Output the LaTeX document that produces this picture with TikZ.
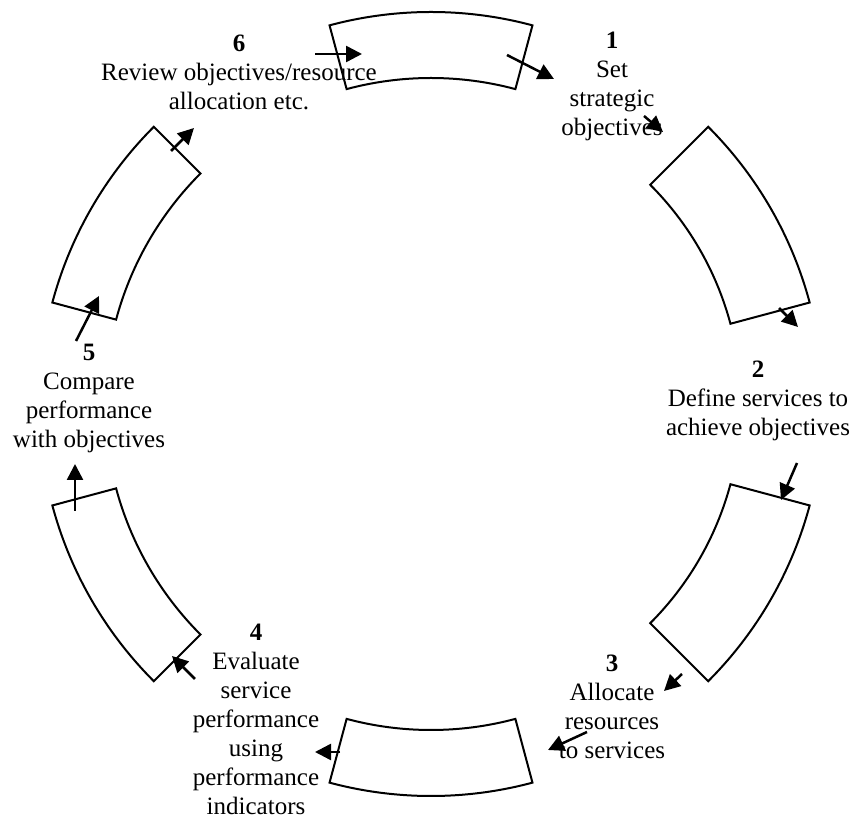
\documentclass[tikz,border=0pt]{standalone}
\usepackage{fontspec}
\setmainfont{Liberation Serif}
\usetikzlibrary{arrows.meta,calc}
% one curved segment of the cycle ring: start angle, end angle, inner radius
\newcommand\ringpiece[3]{%
  \draw[piece] ($(hub)+(#1:392pt)$) arc[start angle=#1,end angle=#2,radius=392pt]
    -- ($(hub)+(#2:#3pt)$) arc[start angle=#2,end angle=#1,radius=#3pt] -- cycle;}
\begin{document}
\begin{tikzpicture}[x=1pt,y=1pt,
  piece/.style={line width=2pt,line join=miter},
  flow/.style={line width=2.5pt,-{Triangle[length=16pt,width=16pt]}},
  stage/.style={align=center,anchor=north,inner sep=0pt,font=\fontsize{25}{29}\selectfont}]
\useasboundingbox (0,0) rectangle (854,819);
\coordinate (hub) at (431,415);

% ring segments
\ringpiece{75}{105}{326}
\ringpiece{15}{45}{310}
\ringpiece{-45}{-15}{310}
\ringpiece{255}{285}{326}
\ringpiece{195}{225}{326}
\ringpiece{135}{165}{326}

% stage labels
\node[stage] (set) at (612,787.5) {\textbf{1}\\Set\\strategic\\objectives};
\node[stage] (define) at (758,458.5) {\textbf{2}\\Define services to\\achieve objectives};
\node[stage] (allocate) at (612,164.5) {\textbf{3}\\Allocate\\resources\\to services};
\node[stage] (evaluate) at (256,195.5) {\textbf{4}\\Evaluate\\service\\performance\\using\\performance\\indicators};
\node[stage] (compare) at (89,475.5) {\textbf{5}\\Compare\\performance\\with objectives};
\node[stage] (review) at (239,784.5) {\textbf{6}\\Review objectives/resource\\allocation etc.};

% arrow end points
\coordinate (topOutA) at (507,764);  \coordinate (topOutB) at (554,740);
\coordinate (topInA)  at (315,765);  \coordinate (topInB)  at (362,765);
\coordinate (objA)    at (644,703);  \coordinate (objB)    at (663,687);
\coordinate (bOutA)   at (779,511);  \coordinate (bOutB)   at (798,492);
\coordinate (cInA)    at (797,356);  \coordinate (cInB)    at (781,319);
\coordinate (cOutA)   at (682,145);  \coordinate (cOutB)   at (664,128);
\coordinate (dInA)    at (587,87);   \coordinate (dInB)    at (548,69);
\coordinate (dOutA)   at (340,67);   \coordinate (dOutB)   at (315,67);
\coordinate (eInA)    at (195,140);  \coordinate (eInB)    at (172,163);
\coordinate (eOutA)   at (75,308);   \coordinate (eOutB)   at (75,355);
\coordinate (fInA)    at (76,478);   \coordinate (fInB)    at (99,523);
\coordinate (fOutA)   at (171,668);  \coordinate (fOutB)   at (194,691);

% flow arrows around the cycle
\draw[flow] (topOutA) -- (topOutB);
\draw[flow] (topInA) -- (topInB);
\draw[flow] (objA) -- (objB);
\draw[flow] (bOutA) -- (bOutB);
\draw[flow] (cInA) -- (cInB);
\draw[flow] (cOutA) -- (cOutB);
\draw[flow] (dInA) -- (dInB);
\draw[flow] (dOutA) -- (dOutB);
\draw[flow] (eInA) -- (eInB);
\draw[flow] (eOutA) -- (eOutB);
\draw[flow] (fInA) -- (fInB);
\draw[flow] (fOutA) -- (fOutB);
\end{tikzpicture}
\end{document}
